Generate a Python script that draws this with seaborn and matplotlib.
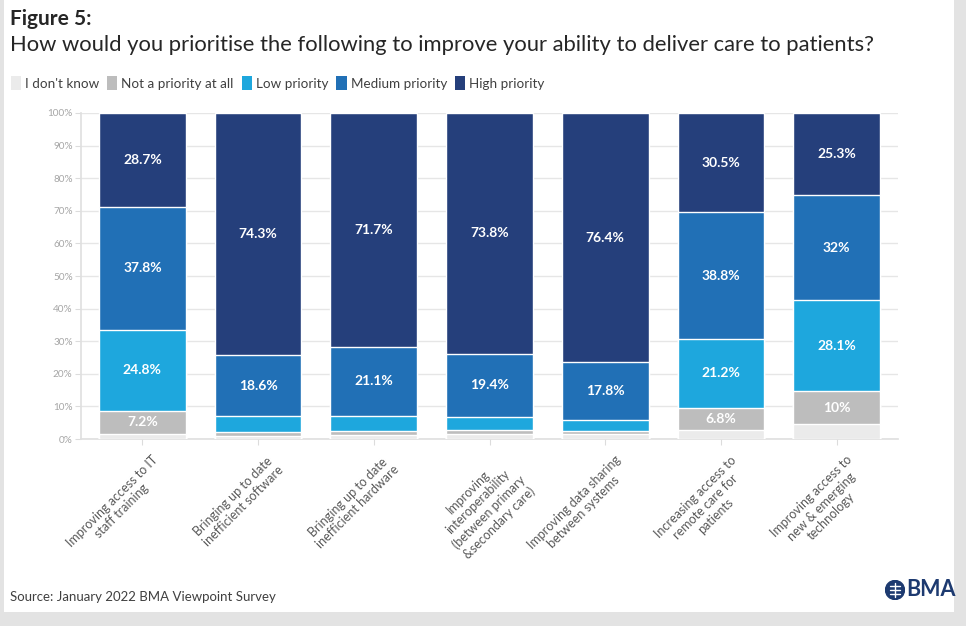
import numpy as np
import pandas as pd
import matplotlib
matplotlib.use("Agg")
import matplotlib.pyplot as plt
import matplotlib.transforms as mtransforms
import seaborn as sns
from matplotlib.patches import Patch, Rectangle, Circle

categories = [
    "Improving access to IT\nstaff training",
    "Bringing up to date\ninefficient software",
    "Bringing up to date\ninefficient hardware",
    "Improving\ninteroperability\n(between primary\n&secondary care)",
    "Improving data sharing\nbetween systems",
    "Increasing access to\nremote care for\npatients",
    "Improving access to\nnew & emerging\ntechnology",
]

dont_know = [1.5, 1.0, 1.2, 1.6, 1.5, 2.7, 4.6]
not_priority = [7.2, 1.3, 1.4, 1.3, 0.9, 6.8, 10.0]
low_priority = [24.8, 4.8, 4.6, 3.9, 3.4, 21.2, 28.1]
medium_priority = [37.8, 18.6, 21.1, 19.4, 17.8, 38.8, 32.0]
high_priority = [28.7, 74.3, 71.7, 73.8, 76.4, 30.5, 25.3]

series_names = ["I don't know", "Not a priority at all", "Low priority",
                "Medium priority", "High priority"]
series_values = [dont_know, not_priority, low_priority, medium_priority, high_priority]
series_colors = ["#ebebeb", "#bdbdbd", "#1ea7dd", "#2170b6", "#253f7b"]
labelled = [False, True, True, True, True]

sns.set_theme(style="white")
plt.rcParams["font.family"] = ["Lato", "DejaVu Sans"]

fig = plt.figure(figsize=(9.66, 6.26), dpi=100)
fig.patch.set_facecolor("#e3e3e3")
# white card
fig.add_artist(Rectangle((0.004, 0.022), 0.984, 0.978, transform=fig.transFigure,
                         facecolor="white", edgecolor="none", zorder=0))

ax = fig.add_axes([0.0839, 0.2987, 0.8457, 0.5208])
ax.set_facecolor("none")

df = pd.DataFrame({"category": categories})
cum = np.zeros(len(categories))
cums = []
for vals in series_values:
    cum = cum + np.array(vals)
    cums.append(cum.copy())

# stacked bars: draw cumulative totals from the top series downwards
for name, color, top in reversed(list(zip(series_names, series_colors, cums))):
    d = df.copy()
    d["value"] = top
    sns.barplot(data=d, x="category", y="value", color=color, width=0.75,
                edgecolor="white", linewidth=1.0, saturation=1, ax=ax, zorder=3)

# value labels
for s, (vals, top, show) in enumerate(zip(series_values, cums, labelled)):
    if not show:
        continue
    for i, v in enumerate(vals):
        if v < 5:
            continue
        ax.text(i, top[i] - v / 2, f"{v:g}%", ha="center", va="center",
                color="white", fontsize=10, fontweight="bold", zorder=5)

ax.set_ylim(0, 100)
ax.set_xlim(-0.53, 6.53)
ax.set_yticks(np.arange(0, 101, 10))
ax.set_yticklabels([f"{t}%" for t in range(0, 101, 10)])
ax.yaxis.grid(True, color="#e6e6e6", linewidth=1.0, zorder=0)
ax.set_axisbelow(True)
for sp in ["top", "right"]:
    ax.spines[sp].set_visible(False)
ax.spines["left"].set_color("#e0e0e0")
ax.spines["bottom"].set_color("#e0e0e0")
ax.tick_params(axis="y", colors="#a6a6a6", labelsize=7.2, length=4, width=0.8,
               left=True, pad=2, color="#dcdcdc")
ax.tick_params(axis="x", colors="#595959", labelsize=9, length=4, width=0.8,
               bottom=True, pad=3, color="#dcdcdc")
ax.set_xlabel("")
ax.set_ylabel("")
shift = mtransforms.ScaledTranslation(9 / 100, -5 / 100, fig.dpi_scale_trans)
for lab in ax.get_xticklabels():
    lab.set_rotation(45)
    lab.set_ha("right")
    lab.set_va("top")
    lab.set_rotation_mode("anchor")
    lab.set_multialignment("center")
    lab.set_color("#595959")
    lab.set_transform(lab.get_transform() + shift)

# titles
fig.text(0.010, 0.970, "Figure 5:", fontsize=15, fontweight="bold",
         color="#262626", ha="left", va="center")
fig.text(0.010, 0.928, "How would you prioritise the following to improve your ability to deliver care to patients?",
         fontsize=15.8, color="#262626", ha="left", va="center")

handles = [Patch(facecolor=c, edgecolor="none") for c in series_colors]
fig.legend(handles, series_names, loc="center left", bbox_to_anchor=(0.011, 0.867),
           ncol=5, frameon=False, fontsize=9.7, handlelength=0.75, handleheight=1.2,
           handletextpad=0.3, columnspacing=0.6, labelcolor="#404040",
           borderaxespad=0, borderpad=0)

fig.text(0.010, 0.047, "Source: January 2022 BMA Viewpoint Survey", fontsize=9.5,
         color="#404040", ha="left", va="center")

# BMA mark
navy = "#1d3a70"
logo_ax = fig.add_axes([(895 - 10) / 966, 1 - (590 + 10) / 626, 20 / 966, 20 / 626])
logo_ax.set_xlim(-1, 1)
logo_ax.set_ylim(-1, 1)
logo_ax.axis("off")
logo_ax.add_patch(Circle((0, 0), 0.95, color=navy))
for yy in (0.4, 0.0, -0.4):
    logo_ax.plot([-0.5, 0.5], [yy, yy], color="white", lw=1.0)
logo_ax.plot([0, 0], [-0.7, 0.7], color="white", lw=1.0)
fig.text(906 / 966, 1 - 590 / 626, "BMA", fontsize=15.5, fontweight="bold", color=navy,
         ha="left", va="center")

fig.savefig("out.png", dpi=100, facecolor=fig.get_facecolor())
